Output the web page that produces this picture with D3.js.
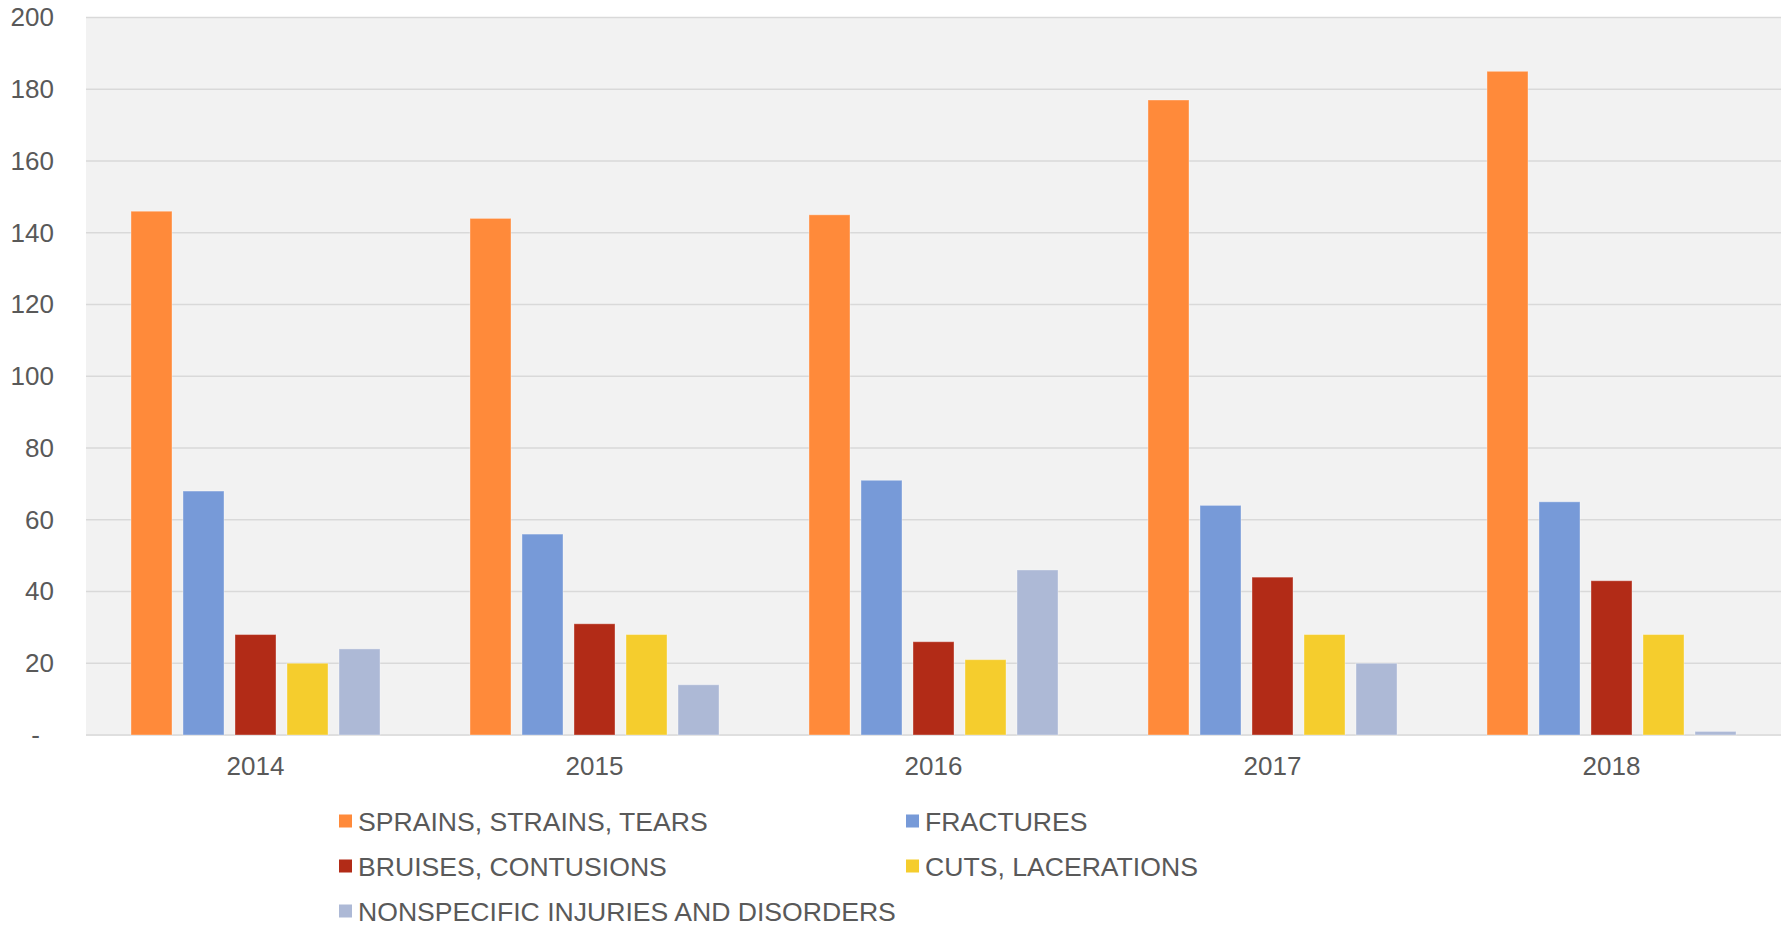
<!DOCTYPE html>
<html>
<head>
<meta charset="utf-8">
<script src="https://cdn.jsdelivr.net/npm/d3@7"></script>
<style>
  body { margin: 0; background: #fff; }
  text { font-family: "Liberation Sans", Arial, sans-serif; fill: #595959; }
</style>
</head>
<body>
<svg id="chart"></svg>
<script>
// values
const years = ["2014", "2015", "2016", "2017", "2018"];
const series = [
  "SPRAINS, STRAINS, TEARS",
  "FRACTURES",
  "BRUISES, CONTUSIONS",
  "CUTS, LACERATIONS",
  "NONSPECIFIC INJURIES AND DISORDERS"
];
const sprains = [146, 144, 145, 177, 185];
const fractures = [68, 56, 71, 64, 65];
const bruises = [28, 31, 26, 44, 43];
const cuts = [20, 28, 21, 28, 28];
const nonspecific = [24, 14, 46, 20, 1];
const yTicks = [0, 20, 40, 60, 80, 100, 120, 140, 160, 180, 200];
const colors = ["#FF8A3A", "#779AD8", "#B22B17", "#F5CD2D", "#ADB9D6"];

const values = [sprains, fractures, bruises, cuts, nonspecific];

const W = 1787, H = 926;
const plot = { left: 86, right: 1781, top: 17.5, bottom: 735 };

const svg = d3.select("#chart").attr("width", W).attr("height", H);

let x0 = d3.scaleBand().domain(years).range([plot.left, plot.right]);
let x1 = d3.scaleBand()
  .domain(series)
  .range([0, x0.bandwidth()])
  .paddingInner(0.2115)
  .paddingOuter(0.865);
let y = d3.scaleLinear().domain([0, 200]).range([plot.bottom, plot.top]);
let color = d3.scaleOrdinal().domain(series).range(colors);

// plot background
svg.append("rect")
  .attr("x", plot.left)
  .attr("y", plot.top)
  .attr("width", plot.right - plot.left)
  .attr("height", plot.bottom - plot.top + 1)
  .attr("fill", "#F2F2F2");

// gridlines
svg.append("g")
  .selectAll("line")
  .data(yTicks)
  .join("line")
  .attr("x1", plot.left)
  .attr("x2", plot.right)
  .attr("y1", d => y(d))
  .attr("y2", d => y(d))
  .attr("stroke", "#D9D9D9")
  .attr("stroke-width", 1.5);

// bars
const groups = svg.append("g")
  .selectAll("g")
  .data(years)
  .join("g")
  .attr("transform", d => `translate(${x0(d)},0)`);

groups.selectAll("rect")
  .data((yr, i) => series.map((s, j) => ({ s: s, v: values[j][i] })))
  .join("rect")
  .attr("x", d => x1(d.s))
  .attr("width", x1.bandwidth())
  .attr("y", d => y(d.v))
  .attr("height", d => y(0) - y(d.v))
  .attr("fill", d => color(d.s))
  .attr("stroke", "#fff")
  .attr("stroke-opacity", 0.35)
  .attr("stroke-width", 1);

// y axis
const yAxis = svg.append("g")
  .attr("transform", "translate(54,0)")
  .call(d3.axisLeft(y).tickValues(yTicks).tickSize(0).tickPadding(0)
    .tickFormat(d => d === 0 ? "-" : d));
yAxis.select(".domain").remove();
yAxis.selectAll("text")
  .attr("font-size", 26)
  .attr("dx", d => d === 0 ? -14 : 0);

// x axis
const xAxis = svg.append("g")
  .attr("transform", `translate(0,${plot.bottom})`)
  .call(d3.axisBottom(x0).tickSize(0).tickPadding(22));
xAxis.select(".domain").remove();
xAxis.selectAll("text").attr("font-size", 26);

// legend
const legendPos = [
  [339, 0], [906, 0],
  [339, 1], [906, 1],
  [339, 2]
];
const legend = svg.append("g")
  .selectAll("g")
  .data(series)
  .join("g")
  .attr("transform", (d, i) => `translate(${legendPos[i][0]},${821 + legendPos[i][1] * 45})`);

legend.append("rect")
  .attr("x", 0)
  .attr("y", -6.5)
  .attr("width", 13)
  .attr("height", 13)
  .attr("fill", d => color(d));

legend.append("text")
  .attr("x", 19)
  .attr("y", 0)
  .attr("dy", "0.36em")
  .attr("font-size", 26.6)
  .text(d => d);
</script>
</body>
</html>
